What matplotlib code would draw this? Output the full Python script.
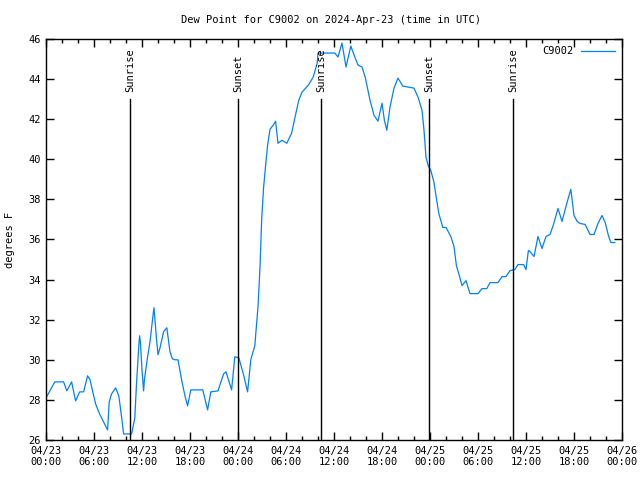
"""
Dew point time series for station C9002, gnuplot look
"""
import matplotlib
matplotlib.use('Agg')
import matplotlib.pyplot as plt
import matplotlib.dates as mdates
import numpy as np
from datetime import datetime, timedelta

plt.rcParams['font.family'] = ['DejaVu Sans Mono']
plt.rcParams['font.size'] = 7.5

# ---- data (hours after 2024-04-23 00:00 UTC, deg F) ----
hours = [0.0, 1.1, 2.2, 2.6, 3.2, 3.7, 4.2, 4.7, 5.2, 5.5, 6.2, 6.7, 7.2, 7.7,
         7.9, 8.2, 8.7, 9.1, 9.4, 9.7, 10.7, 11.1, 11.3, 11.6, 11.7, 11.8, 12.0,
         12.2, 12.3, 12.7, 13.0, 13.4, 13.5, 13.8, 14.0, 14.25, 14.7, 15.1, 15.5,
         15.8, 16.1, 16.5, 17.0, 17.4, 17.7, 18.1, 19.6, 20.2, 20.6, 21.5, 22.2,
         22.5, 23.2, 23.6, 24.1, 24.7, 25.2, 25.6, 26.1, 26.5, 26.75, 26.96, 27.2,
         27.5, 27.7, 28.0, 28.4, 28.7, 29.0, 29.5, 30.1, 30.7, 31.1, 31.6, 32.0,
         32.8, 33.4, 33.9, 34.0, 36.1, 36.5, 37.0, 37.5, 38.1, 38.6, 39.0, 39.5,
         39.9, 40.5, 41.0, 41.5, 42.0, 42.3, 42.6, 43.0, 43.5, 44.0, 44.6, 45.3,
         46.0, 46.5, 47.0, 47.25, 47.5, 47.8, 48.1, 48.5, 48.8, 49.1, 49.6, 50.0,
         50.6, 51.0, 51.3, 51.7, 52.0, 52.5, 53.0, 54.0, 54.5, 55.1, 55.5, 56.5,
         57.0, 57.5, 58.0, 58.6, 59.0, 59.7, 60.0, 60.3, 60.5, 61.0, 61.5, 62.0,
         62.5, 63.0, 63.4, 64.0, 64.5, 65.1, 65.6, 65.7, 66.0, 66.4, 66.75, 67.4,
         68.0, 68.5, 69.0, 69.5, 69.9, 70.3, 70.6, 71.1]
dewpoint = [28.1, 28.9, 28.9, 28.45, 28.9, 27.95, 28.4, 28.4, 29.2, 29.0, 27.8,
            27.3, 26.9, 26.5, 27.9, 28.3, 28.6, 28.2, 27.3, 26.3, 26.3, 27.1,
            28.7, 30.7, 31.2, 30.9, 29.5, 28.45, 29.0, 30.15, 30.9, 32.3, 32.6,
            31.1, 30.25, 30.6, 31.4, 31.6, 30.4, 30.05, 30.0, 30.0, 28.9, 28.15,
            27.7, 28.5, 28.5, 27.5, 28.4, 28.45, 29.3, 29.4, 28.5, 30.15, 30.1,
            29.25, 28.4, 30.0, 30.7, 32.65, 34.6, 37.0, 38.6, 39.9, 40.7, 41.5,
            41.7, 41.9, 40.8, 40.95, 40.8, 41.3, 42.05, 42.95, 43.35, 43.7, 44.1,
            44.8, 45.3, 45.3, 45.1, 45.8, 44.6, 45.65, 45.1, 44.7, 44.6, 44.1,
            42.95, 42.2, 41.9, 42.8, 41.95, 41.45, 42.6, 43.55, 44.05, 43.65, 43.6,
            43.55, 43.1, 42.45, 41.45, 40.1, 39.65, 39.45, 38.85, 38.05, 37.3,
            36.6, 36.6, 36.15, 35.65, 34.7, 34.15, 33.7, 33.95, 33.3, 33.3, 33.55,
            33.55, 33.85, 33.85, 34.15, 34.15, 34.45, 34.5, 34.75, 34.75, 34.5,
            35.45, 35.4, 35.15, 36.15, 35.55, 36.15, 36.25, 36.7, 37.55, 36.9,
            37.8, 38.5, 38.2, 37.2, 36.9, 36.8, 36.75, 36.25, 36.25, 36.8, 37.2,
            36.85, 36.2, 35.85, 35.85]

sunrise_hours = [10.5, 34.4, 58.4]
sunset_hours = [24.0, 47.9]

start = datetime(2024, 4, 23, 0, 0)
times = [start + timedelta(hours=h) for h in hours]

fig = plt.figure(figsize=(6.4, 4.8), dpi=100)
ax = fig.add_axes([46 / 640, 40 / 480, 576 / 640, 401 / 480])

ax.plot(times, dewpoint, color='#0080ff', lw=0.9, label='C9002')

# sunrise / sunset markers
events = [(h, 'Sunrise') for h in sunrise_hours] + [(h, 'Sunset') for h in sunset_hours]
for h, name in events:
    t = start + timedelta(hours=h)
    ax.plot([t, t], [26, 43], color='black', lw=1.0)
    ax.text(t, 43.35, name, rotation=90, ha='center', va='bottom')

ax.set_xlim(start, start + timedelta(hours=72))
ax.set_ylim(26, 46)
ax.set_yticks(np.arange(26, 47, 2))
ax.xaxis.set_major_locator(mdates.HourLocator(byhour=[0, 6, 12, 18]))
ax.xaxis.set_minor_locator(mdates.HourLocator(byhour=range(0, 24, 2)))
ax.xaxis.set_major_formatter(mdates.DateFormatter('%m/%d\n%H:%M'))

ax.tick_params(which='both', direction='in', top=True, right=True, width=1.0)
ax.tick_params(which='major', length=6, pad=4)
ax.tick_params(which='minor', length=3)
ax.tick_params(axis='y', which='minor', left=False, right=False)
for s in ax.spines.values():
    s.set_linewidth(1.0)

ax.set_ylabel('degrees F', labelpad=9)
fig.text(331 / 640, 1 - 20 / 480, 'Dew Point for C9002 on 2024-Apr-23 (time in UTC)',
         ha='center', va='center')

leg = ax.legend(loc='upper right', frameon=False, markerfirst=False,
                handlelength=3.2, handletextpad=0.8, borderaxespad=0.3)

plt.savefig('out.png', dpi=100, facecolor='white')
